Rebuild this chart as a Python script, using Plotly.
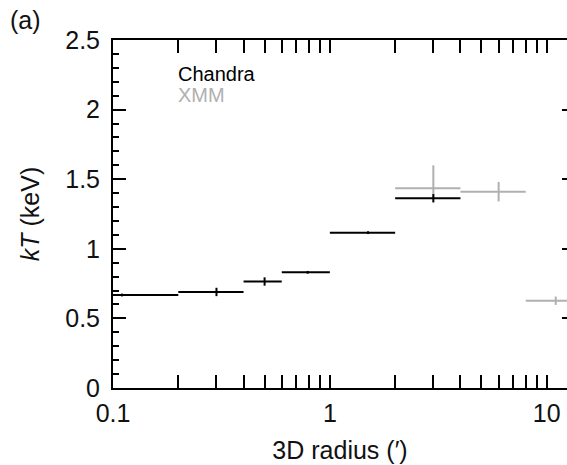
import plotly.graph_objects as go
import numpy as np

# Chandra data (3D radius bins in arcmin, kT in keV)
chandra_r = [0.11, 0.3, 0.5, 0.79, 1.5, 3.0]
chandra_rlo = [0.1, 0.2, 0.4, 0.6, 1.0, 2.0]
chandra_rhi = [0.2, 0.4, 0.6, 1.0, 2.0, 4.0]
chandra_kt = [0.668, 0.69, 0.765, 0.831, 1.116, 1.363]
chandra_err_up = [0.01, 0.03, 0.03, 0.01, 0.01, 0.03]
chandra_err_lo = [0.01, 0.03, 0.03, 0.01, 0.01, 0.03]

# XMM data
xmm_r = [3.0, 6.0, 11.0]
xmm_rlo = [2.0, 4.0, 8.0]
xmm_rhi = [4.0, 8.0, 16.0]
xmm_kt = [1.435, 1.41, 0.627]
xmm_err_up = [0.165, 0.07, 0.03]
xmm_err_lo = [0.07, 0.07, 0.03]

FONT = "Liberation Sans, Arial, Helvetica, sans-serif"

def err_trace(r, rlo, rhi, kt, eu, el, color, yaxis):
    r = np.array(r); rlo = np.array(rlo); rhi = np.array(rhi)
    return go.Scatter(
        x=r, y=kt, mode="markers", yaxis=yaxis,
        marker=dict(size=1, color=color, opacity=0),
        error_x=dict(type="data", symmetric=False, array=list(rhi - r),
                     arrayminus=list(r - rlo), color=color, thickness=2, width=0),
        error_y=dict(type="data", symmetric=False, array=eu, arrayminus=el,
                     color=color, thickness=2, width=0),
        showlegend=False, hoverinfo="skip",
    )

fig = go.Figure()
fig.add_trace(err_trace(xmm_r, xmm_rlo, xmm_rhi, xmm_kt, xmm_err_up, xmm_err_lo, "#b0b0b0", "y"))
fig.add_trace(err_trace(chandra_r, chandra_rlo, chandra_rhi, chandra_kt,
                        chandra_err_up, chandra_err_lo, "black", "y2"))

fig.update_layout(
    width=567, height=465,
    margin=dict(l=113, r=0, t=40, b=77),
    paper_bgcolor="white", plot_bgcolor="white",
    font=dict(family=FONT, size=25, color="#111111"),
    xaxis=dict(
        type="log", range=[-1, np.log10(12.4)],
        tickvals=[0.1, 1, 10], ticktext=["0.1", "1", "10"],
        ticks="inside", ticklen=13, tickwidth=1.5, tickcolor="black",
        minor=dict(ticks="inside", ticklen=6, tickwidth=1.5, tickcolor="black", dtick="D1", showgrid=False),
        showline=True, linecolor="black", linewidth=2, mirror="allticks",
        showgrid=False, zeroline=False,
        tickfont=dict(size=25), ticklabelstandoff=2,
        title=dict(text="3D radius (′)", font=dict(size=25), standoff=15),
    ),
    yaxis=dict(
        range=[0, 2.5], tickvals=[0, 0.5, 1, 1.5, 2, 2.5],
        ticktext=["0", "0.5", "1", "1.5", "2", "2.5"],
        ticks="inside", ticklen=13, tickwidth=1.5, tickcolor="black",
        minor=dict(ticks="inside", ticklen=6, tickwidth=1.5, tickcolor="black", dtick=0.1, showgrid=False),
        showline=True, linecolor="black", linewidth=2, mirror=False,
        showgrid=False, zeroline=False,
        tickfont=dict(size=25), ticklabelstandoff=6,
        title=dict(text="<i>kT</i> (keV)", font=dict(size=25), standoff=18),
    ),
    yaxis2=dict(
        overlaying="y", side="right", anchor="x", range=[0, 2.5],
        tickvals=[0.5, 1, 1.5, 2, 2.5], ticks="inside", ticklen=5, tickwidth=1.5,
        tickcolor="black", showticklabels=False, showline=False, showgrid=False, zeroline=False,
    ),
    annotations=[
        dict(text="(a)", xref="paper", yref="paper", x=(8 - 113) / 454, y=1 + (40 - 20) / 348,
             xanchor="left", yanchor="middle", showarrow=False, font=dict(size=25)),
        dict(text="Chandra", xref="paper", yref="paper", x=(176 - 113) / 454, y=(388 - 74) / 348,
             xanchor="left", yanchor="middle", showarrow=False, font=dict(size=20, color="black")),
        dict(text="XMM", xref="paper", yref="paper", x=(176 - 113) / 454, y=(388 - 95) / 348,
             xanchor="left", yanchor="middle", showarrow=False, font=dict(size=20, color="#b0b0b0")),
    ],
)

fig.write_html("out.html")
